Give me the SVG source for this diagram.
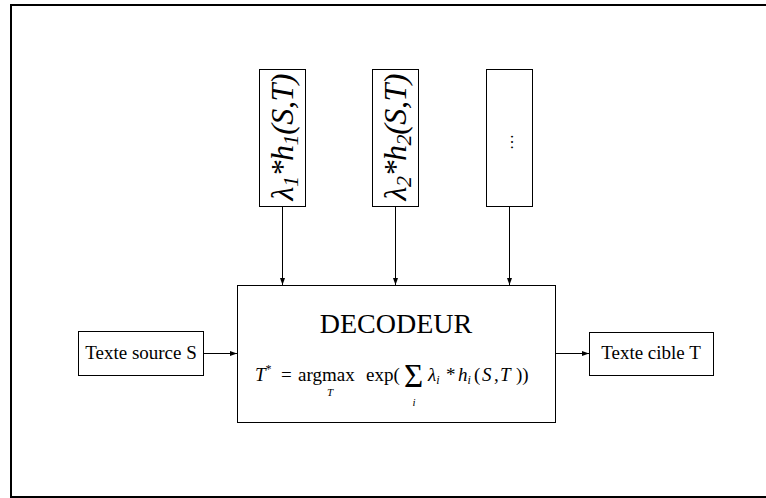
<svg xmlns="http://www.w3.org/2000/svg" width="766" height="498" viewBox="0 0 766 498">
<style>
.box{fill:#fff;stroke:#000;stroke-width:1}
.t{font-family:"Liberation Serif","Times New Roman",serif;fill:#000}
.i{font-style:italic}
.ln{stroke:#000;stroke-width:1;fill:none}
</style>
<defs>
<marker id="ah" markerWidth="7" markerHeight="6" refX="7" refY="3" orient="auto" markerUnits="userSpaceOnUse">
<path d="M0,0.5 L7,3 L0,5.5 Z" fill="#000"/>
</marker>
</defs>
<rect x="0" y="0" width="766" height="498" fill="#fff"/>
<rect x="11" y="5" width="770" height="492" fill="none" stroke="#000" stroke-width="2"/>

<g id="f1">
<rect class="box" x="259.5" y="69.5" width="46" height="137"/>
<text class="t i" font-size="32" text-anchor="middle" textLength="127" lengthAdjust="spacing" transform="translate(293,137) rotate(-90)">λ<tspan font-size="22" dy="5">1</tspan><tspan dy="-5">*h</tspan><tspan font-size="22" dy="5">1</tspan><tspan dy="-5">(S,T)</tspan></text>
</g>
<g id="f2">
<rect class="box" x="372.5" y="69.5" width="46" height="137"/>
<text class="t i" font-size="32" text-anchor="middle" textLength="127" lengthAdjust="spacing" transform="translate(406,137) rotate(-90)">λ<tspan font-size="22" dy="5">2</tspan><tspan dy="-5">*h</tspan><tspan font-size="22" dy="5">2</tspan><tspan dy="-5">(S,T)</tspan></text>
</g>
<g id="f3">
<rect class="box" x="486.5" y="69.5" width="46" height="137"/>
<text class="t" font-size="16" text-anchor="middle" transform="translate(513,142) rotate(-90)">…</text>
</g>

<g id="decoder">
<rect class="box" x="237.5" y="285.5" width="318" height="137"/>
<text class="t" x="396" y="333" font-size="28" text-anchor="middle">DECODEUR</text>
<text class="t" font-size="19" y="381"><tspan class="i" x="255">T</tspan><tspan font-size="12" dy="-8">*</tspan><tspan dy="8" x="281">=</tspan><tspan x="298">argmax</tspan><tspan x="366">exp(</tspan><tspan class="i" x="428">λ</tspan><tspan class="i" font-size="12" dy="3">i</tspan><tspan dy="-3" x="446">*</tspan><tspan class="i" x="458">h</tspan><tspan class="i" font-size="12" dy="3">i</tspan><tspan dy="-3" x="474">(</tspan><tspan class="i" x="482">S</tspan><tspan x="494">,</tspan><tspan class="i" x="500">T</tspan><tspan x="516">))</tspan></text>
<text class="t" x="404" y="387" font-size="33">Σ</text>
<text class="t i" x="330" y="396" font-size="11" text-anchor="middle">T</text>
<text class="t i" x="414" y="406" font-size="11" text-anchor="middle">i</text>
</g>

<g id="source">
<rect class="box" x="78.5" y="331.5" width="125" height="44"/>
<text class="t" x="141" y="359" font-size="19" text-anchor="middle">Texte source S</text>
</g>
<g id="target">
<rect class="box" x="589.5" y="332.5" width="124" height="43"/>
<text class="t" x="651" y="359" font-size="19" text-anchor="middle">Texte cible T</text>
</g>

<g id="connectors">
<line class="ln" x1="282.5" y1="207" x2="282.5" y2="285" marker-end="url(#ah)"/>
<line class="ln" x1="395.5" y1="207" x2="395.5" y2="285" marker-end="url(#ah)"/>
<line class="ln" x1="509.5" y1="207" x2="509.5" y2="285" marker-end="url(#ah)"/>
<line class="ln" x1="204" y1="353.5" x2="237" y2="353.5" marker-end="url(#ah)"/>
<line class="ln" x1="556" y1="353.5" x2="589" y2="353.5" marker-end="url(#ah)"/>
</g>
</svg>
